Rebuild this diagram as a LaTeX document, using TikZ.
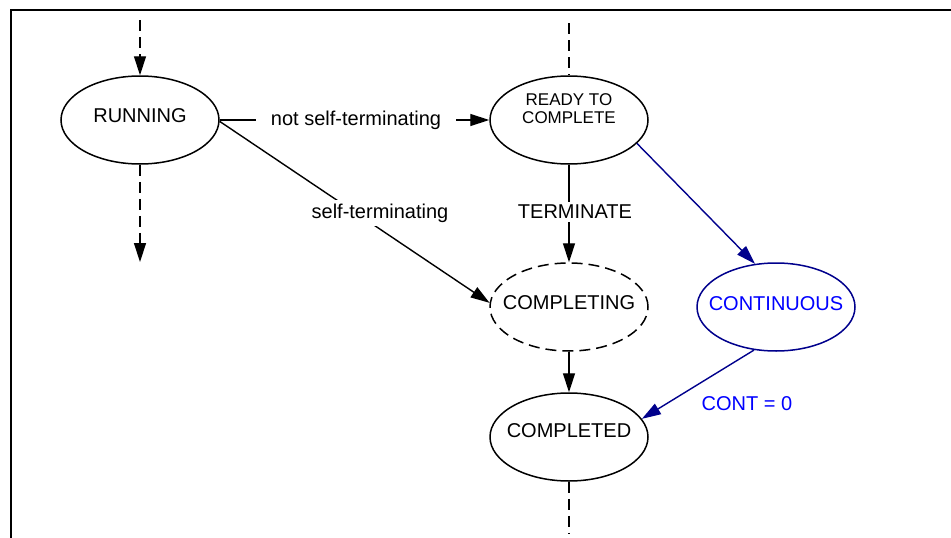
\documentclass[tikz,border=0pt]{standalone}
\usepackage{fontspec}
\setmainfont{Liberation Sans}
\usetikzlibrary{shapes.geometric,arrows.meta}
\definecolor{linkblue}{RGB}{0,0,140}
\definecolor{textblue}{RGB}{0,0,255}
\begin{document}
\begin{tikzpicture}[x=1pt,y=-1pt,
  state/.style={ellipse, draw, line width=1.5pt, minimum width=158pt,
                minimum height=88pt, inner sep=0pt},
  txt/.style={font=\fontsize{20}{24}\selectfont},
  small/.style={font=\fontsize{17}{18}\selectfont, align=center},
  tag/.style={txt, fill=white, inner sep=3.5pt},
  gap/.style={txt, inner xsep=15pt, inner ysep=3pt},
  plain/.style={line width=1.4pt},
  arr/.style={line width=1.4pt, -{Triangle[length=19pt,width=12pt]}},
  dashline/.style={dash pattern=on 11pt off 6pt},
]
\useasboundingbox (0,0) rectangle (951,538);
% frame on the left and top edges
\draw[line width=2pt] (11,538) -- (11,9.5) -- (951,9.5);

% states
\node[state, label={[txt,yshift=4pt]center:RUNNING}] (run) at (140,120) {};
\node[state, label={[small,yshift=11pt]center:READY TO\\COMPLETE}] (ready) at (569,120) {};
\node[state, dashline, label={[txt,yshift=4pt]center:COMPLETING}] (completing) at (569,307) {};
\node[state, label={[txt,yshift=6pt]center:COMPLETED}] (completed) at (569,437) {};
\node[state, draw=linkblue, label={[txt,text=textblue,yshift=3pt]center:CONTINUOUS}] (cont) at (776,307) {};

% open ends of the dashed flows
\coordinate (runin) at (140,20);
\coordinate (runout) at (140,262);
\coordinate (readyin) at (569,23);
\coordinate (doneout) at (569,533);

\draw[arr,dashline] (runin) -- (run.north);
\draw[arr,dashline] (run.south) -- (runout);
\draw[plain,dashline] (readyin) -- (ready.north);
\draw[plain,dashline] (completed.south) -- (doneout);

% RUNNING -> READY TO COMPLETE
\node[gap] (nst) at (356,120) {not self-terminating};
\draw[plain] (run.east) -- (nst.west);
\draw[arr] (nst.east) -- (ready.west);

% RUNNING -> COMPLETING
\draw[arr] (run.-1) -- (completing.177);
\node[tag] (st) at (380,213) {self-terminating};

% READY TO COMPLETE -> COMPLETING
\draw[arr] (ready.south) -- (completing.north);
\node[tag] (term) at (575,212) {TERMINATE};

% COMPLETING -> COMPLETED
\draw[arr] (completing.south) -- (completed.north);

% continuous branch
\draw[arr,linkblue] (ready.-19) -- (cont.116);
\draw[arr,linkblue] (cont.243) -- (completed.14.5);
\node[txt,text=textblue] (c0) at (747,404) {CONT = 0};
\end{tikzpicture}
\end{document}
